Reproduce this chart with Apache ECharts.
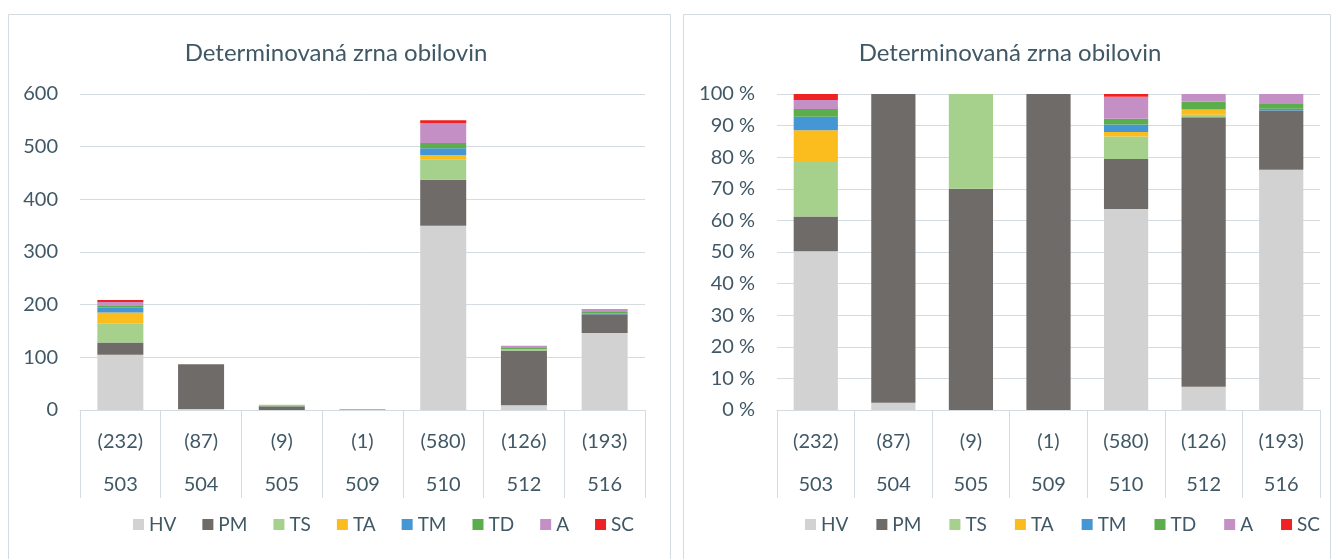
<!DOCTYPE html>
<html>
<head>
<meta charset="utf-8">
<script src="https://cdn.jsdelivr.net/npm/echarts@6/dist/echarts.min.js"></script>
<style>
html,body{margin:0;padding:0;background:#fff;}
#c{width:1334px;height:559px;}
</style>
</head>
<body>
<div id="c"></div>
<script>
const titleText = 'Determinovaná zrna obilovin';
const sites = ['503', '504', '505', '509', '510', '512', '516'];
const counts = ['(232)', '(87)', '(9)', '(1)', '(580)', '(126)', '(193)'];
const seriesNames = ['HV', 'PM', 'TS', 'TA', 'TM', 'TD', 'A', 'SC'];
const HV = [105, 2, 0, 0, 350, 9, 146];
const PM = [23, 85, 7, 1, 87, 104, 36];
const TS = [36, 0, 3, 0, 39, 1, 0];
const TA = [21, 0, 0, 0, 8, 2, 0];
const TM = [9, 0, 0, 0, 13, 0, 1];
const TD = [5, 0, 0, 0, 10, 3, 3];
const A  = [6, 0, 0, 0, 38, 3, 6];
const SC = [4, 0, 0, 0, 5, 0, 0];
const leftTicks = [0, 100, 200, 300, 400, 500, 600];
const rightTicks = [0, 10, 20, 30, 40, 50, 60, 70, 80, 90, 100];

const colors = ['#d2d2d2', '#6f6b69', '#a5d18c', '#fbbd1d', '#4596d4', '#5cae4c', '#c48fc4', '#ee2222'];
const values = [HV, PM, TS, TA, TM, TD, A, SC];
const totals = sites.map((_, i) => values.reduce((s, arr) => s + arr[i], 0));
const pct = values.map(arr => arr.map((v, i) => totals[i] ? v / totals[i] * 100 : 0));

const textColor = '#405866';
const gridColor = '#d4dce2';
const FONT = 'Lato';
const AX = 20;

function xAxis(gi) {
  return {
    type: 'category', gridIndex: gi, data: sites,
    axisLine: {show: true, lineStyle: {color: gridColor, width: 1}},
    axisTick: {show: true, length: 88, lineStyle: {color: gridColor, width: 1}},
    axisLabel: {
      margin: 10, interval: 0, color: textColor, fontFamily: FONT, fontSize: AX,
      lineHeight: 43,
      formatter: (v, i) => counts[i] + '\n' + v
    }
  };
}
function yAxis(gi, max, interval, fmt) {
  return {
    type: 'value', gridIndex: gi, min: 0, max: max, interval: interval,
    axisLine: {show: false}, axisTick: {show: false},
    splitLine: {lineStyle: {color: gridColor, width: 1}},
    axisLabel: {margin: 22, color: textColor, fontFamily: FONT, fontSize: AX, formatter: fmt}
  };
}

const series = [];
seriesNames.forEach((n, k) => {
  series.push({name: n, type: 'bar', stack: 'l', xAxisIndex: 0, yAxisIndex: 0,
    barWidth: '57%', itemStyle: {color: colors[k]}, data: values[k]});
});
seriesNames.forEach((n, k) => {
  series.push({name: n, type: 'bar', stack: 'r', xAxisIndex: 1, yAxisIndex: 1,
    barWidth: '57%', itemStyle: {color: colors[k]}, data: pct[k]});
});

const legendCommon = {
  data: seriesNames, icon: 'rect', itemWidth: 11, itemHeight: 11,
  textStyle: {color: textColor, fontFamily: FONT, fontSize: 19},
  top: 510, selectedMode: false
};

const chart = echarts.init(document.getElementById('c'), null, {renderer: 'canvas'});
chart.setOption({
  animation: false,
  color: colors,
  title: [
    {text: titleText, left: 331, top: 36, textAlign: 'center',
     textStyle: {color: textColor, fontFamily: FONT, fontSize: 24, fontWeight: 'normal'}},
    {text: titleText, left: 1005, top: 36, textAlign: 'center',
     textStyle: {color: textColor, fontFamily: FONT, fontSize: 24, fontWeight: 'normal'}}
  ],
  graphic: [
    {type: 'rect', shape: {x: 8.5, y: 14.5, width: 662, height: 560}, style: {fill: 'none', stroke: '#d3dbe0', lineWidth: 1}, z: -1},
    {type: 'rect', shape: {x: 683.5, y: 14.5, width: 647, height: 560}, style: {fill: 'none', stroke: '#d3dbe0', lineWidth: 1}, z: -1}
  ],
  legend: [
    Object.assign({}, legendCommon, {left: 128, itemGap: 26}),
    Object.assign({}, legendCommon, {left: 800, itemGap: 28})
  ],
  grid: [
    {left: 80, width: 565, top: 94, height: 316},
    {left: 777, width: 543, top: 94, height: 316}
  ],
  xAxis: [xAxis(0), xAxis(1)],
  yAxis: [
    yAxis(0, 600, 100, v => String(v)),
    yAxis(1, 100, 10, v => v + ' %')
  ],
  series: series
});
</script>
</body>
</html>
